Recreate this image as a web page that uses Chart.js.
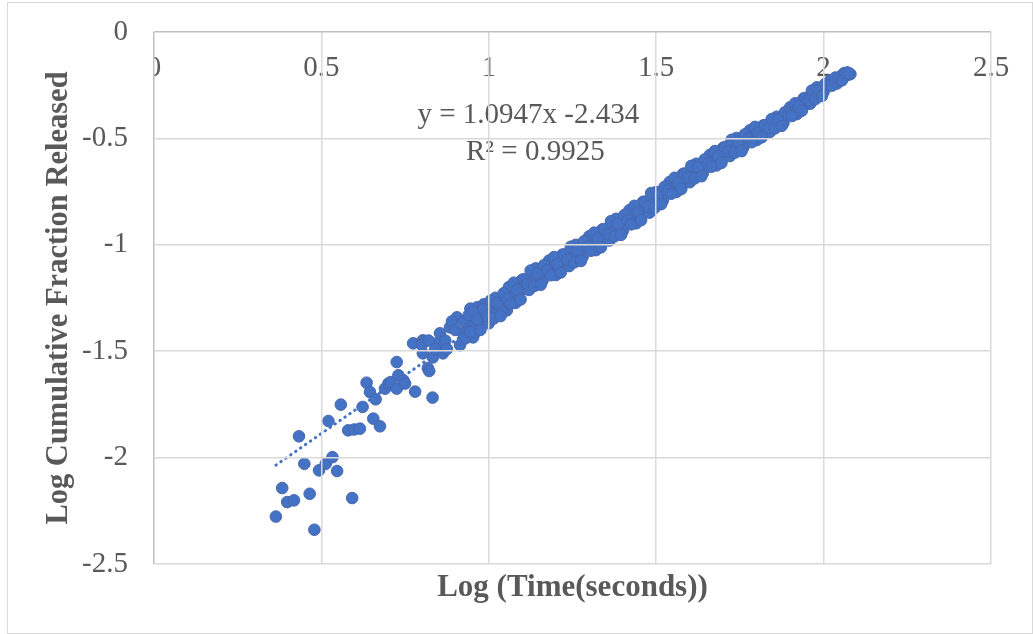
<!DOCTYPE html>
<html>
<head>
<meta charset="utf-8">
<script src="https://cdn.jsdelivr.net/npm/chart.js@4.4.1/dist/chart.umd.min.js"></script>
<style>
html,body{margin:0;padding:0;background:#fff;}
canvas{display:block;}
</style>
</head>
<body>
<canvas id="c" width="1033" height="634"></canvas>
<script>
// ---- data ----
const xTickValues = [0, 0.5, 1, 1.5, 2, 2.5];
const xTickLabels = ["0", "0.5", "1", "1.5", "2", "2.5"];
const yTickValues = [0, -0.5, -1, -1.5, -2, -2.5];
const yTickLabels = ["0", "-0.5", "-1", "-1.5", "-2", "-2.5"];

const xTitle = "Log (Time(seconds))";
const yTitle = "Log Cumulative Fraction Released";
const equationLines = ["y = 1.0947x -2.434", "R\u00B2 = 0.9925"];
const trendSlope = 1.0947;
const trendIntercept = -2.434;

// early, scattered measurements
const earlyLogTime = [0.364,0.383,0.398,0.418,0.433,0.449,0.465,0.479,0.493,0.513,
  0.521,0.533,0.547,0.558,0.580,0.592,0.598,0.615,0.623,0.635,
  0.645,0.655,0.662,0.675,0.690,0.700,0.707,0.725,0.725,0.730,
  0.745,0.750,0.774,0.780,0.803,0.803,0.818,0.822,0.832,0.833,
  0.845,0.854,0.863,0.884,0.905,0.914,0.923,0.935,0.953,0.965,
  0.974,0.995,1.013,1.033,1.054,1.084,
  0.800,0.820,0.840,0.870,0.875,0.890,0.900,0.925,0.930,0.945,
  0.960,0.985];
const earlyLogFraction = [-2.277,-2.143,-2.209,-2.201,-1.900,-2.029,-2.170,-2.339,-2.060,-2.029,
  -1.828,-1.998,-2.063,-1.751,-1.872,-2.190,-1.868,-1.864,-1.762,-1.648,
  -1.692,-1.817,-1.726,-1.853,-1.676,-1.652,-1.645,-1.676,-1.551,-1.613,
  -1.637,-1.652,-1.463,-1.690,-1.449,-1.510,-1.580,-1.593,-1.718,-1.529,
  -1.463,-1.416,-1.510,-1.388,-1.341,-1.472,-1.416,-1.369,-1.435,-1.294,
  -1.341,-1.308,-1.294,-1.261,-1.308,-1.246,
  -1.470,-1.450,-1.490,-1.450,-1.490,-1.360,-1.400,-1.360,-1.440,-1.300,
  -1.320,-1.280];

// later, dense measurements (the thick band), first pass
const lateLogTime = [0.94,0.95,0.96,0.97,0.98,0.99,1.00,1.01,1.02,1.03,
  1.04,1.05,1.06,1.07,1.08,1.09,1.10,1.11,1.12,1.13,
  1.14,1.15,1.16,1.17,1.18,1.19,1.20,1.21,1.22,1.23,
  1.24,1.25,1.26,1.27,1.28,1.29,1.30,1.31,1.32,1.33,
  1.34,1.35,1.36,1.37,1.38,1.39,1.40,1.41,1.42,1.43,
  1.44,1.45,1.46,1.47,1.48,1.49,1.50,1.51,1.52,1.53,
  1.54,1.55,1.56,1.57,1.58,1.59,1.60,1.61,1.62,1.63,
  1.64,1.65,1.66,1.67,1.68,1.69,1.70,1.71,1.72,1.73,
  1.74,1.75,1.76,1.77,1.78,1.79,1.80,1.81,1.82,1.83,
  1.84,1.85,1.86,1.87,1.88,1.89,1.90,1.91,1.92,1.93,
  1.94,1.95,1.96,1.97,1.98,1.99,2.00,2.01,2.02,2.03,
  2.04,2.05,2.06,2.07,2.08];
const lateLogFraction = [-1.330,-1.386,-1.411,-1.332,-1.303,-1.359,-1.369,-1.302,-1.249,-1.297,
  -1.314,-1.236,-1.199,-1.251,-1.273,-1.191,-1.164,-1.207,-1.212,-1.155,
  -1.111,-1.154,-1.170,-1.105,-1.074,-1.121,-1.142,-1.072,-1.046,-1.092,
  -1.100,-1.044,-1.000,-1.042,-1.058,-0.992,-0.960,-1.006,-1.025,-0.955,
  -0.927,-0.973,-0.980,-0.922,-0.878,-0.919,-0.935,-0.868,-0.837,-0.881,
  -0.899,-0.828,-0.799,-0.843,-0.849,-0.790,-0.752,-0.782,-0.791,-0.734,
  -0.705,-0.739,-0.752,-0.691,-0.667,-0.702,-0.706,-0.657,-0.619,-0.651,
  -0.661,-0.606,-0.578,-0.613,-0.627,-0.568,-0.544,-0.579,-0.583,-0.535,
  -0.498,-0.531,-0.543,-0.489,-0.462,-0.499,-0.508,-0.459,-0.439,-0.467,
  -0.469,-0.429,-0.398,-0.423,-0.428,-0.380,-0.354,-0.378,-0.386,-0.335,
  -0.313,-0.337,-0.337,-0.294,-0.260,-0.282,-0.281,-0.246,-0.227,-0.241,
  -0.242,-0.210,-0.195,-0.203,-0.198];

// later, dense measurements (the thick band), in-between readings
const bandLogTime = [0.945,0.955,0.965,0.975,0.985,0.995,1.005,1.015,1.025,1.035,
  1.045,1.055,1.065,1.075,1.085,1.095,1.105,1.115,1.125,1.135,
  1.145,1.155,1.165,1.175,1.185,1.195,1.205,1.215,1.225,1.235,
  1.245,1.255,1.265,1.275,1.285,1.295,1.305,1.315,1.325,1.335,
  1.345,1.355,1.365,1.375,1.385,1.395,1.405,1.415,1.425,1.435,
  1.445,1.455,1.465,1.475,1.485,1.495,1.505,1.515,1.525,1.535,
  1.545,1.555,1.565,1.575,1.585,1.595,1.605,1.615,1.625,1.635,
  1.645,1.655,1.665,1.675,1.685,1.695,1.705,1.715,1.725,1.735,
  1.745,1.755,1.765,1.775,1.785,1.795,1.805,1.815,1.825,1.835,
  1.845,1.855,1.865,1.875,1.885,1.895,1.905,1.915,1.925,1.935,
  1.945,1.955,1.965,1.975,1.985,1.995,2.005,2.015,2.025,2.035,
  2.045,2.055,2.065,2.075];
const bandLogFraction = [-1.410,-1.314,-1.351,-1.400,-1.303,-1.335,-1.263,-1.346,-1.275,-1.335,
  -1.227,-1.255,-1.277,-1.178,-1.211,-1.257,-1.162,-1.184,-1.121,-1.194,
  -1.135,-1.188,-1.096,-1.122,-1.143,-1.058,-1.089,-1.130,-1.046,-1.071,
  -1.009,-1.083,-1.023,-1.076,-0.983,-1.008,-1.028,-0.943,-0.972,-1.012,
  -0.927,-0.951,-0.889,-0.961,-0.901,-0.953,-0.860,-0.885,-0.904,-0.817,
  -0.845,-0.884,-0.797,-0.821,-0.757,-0.827,-0.768,-0.809,-0.728,-0.746,
  -0.760,-0.685,-0.707,-0.738,-0.665,-0.684,-0.629,-0.688,-0.636,-0.678,
  -0.599,-0.618,-0.633,-0.560,-0.583,-0.615,-0.541,-0.561,-0.507,-0.567,
  -0.516,-0.560,-0.481,-0.502,-0.518,-0.446,-0.472,-0.495,-0.438,-0.451,
  -0.409,-0.453,-0.412,-0.441,-0.377,-0.388,-0.395,-0.335,-0.349,-0.370,
  -0.310,-0.321,-0.275,-0.316,-0.273,-0.301,-0.244,-0.250,-0.252,-0.214,
  -0.219,-0.227,-0.192,-0.193];

// ---- build library structures ----
const logTime = earlyLogTime.concat(lateLogTime, bandLogTime);
const logFraction = earlyLogFraction.concat(lateLogFraction, bandLogFraction);
const points = logTime.map((x, i) => ({x: x, y: logFraction[i]}));
const xMinData = Math.min(...logTime), xMaxData = Math.max(...logTime);
const trendPoints = [
  {x: xMinData, y: trendSlope * xMinData + trendIntercept},
  {x: xMaxData, y: trendSlope * xMaxData + trendIntercept}
];

const TEXT = '#595959';
const SERIF = '"Liberation Serif", "Times New Roman", serif';

const decorations = {
  id: 'decorations',
  beforeDraw(chart) {
    const ctx = chart.ctx;
    ctx.save();
    ctx.fillStyle = '#ffffff';
    ctx.fillRect(0, 0, chart.width, chart.height);
    ctx.strokeStyle = '#d9d9d9';
    ctx.lineWidth = 1;
    ctx.strokeRect(7.5, 2.5, 1025, 631);
    ctx.restore();
  },
  beforeDatasetsDraw(chart) {
    const ctx = chart.ctx;
    const ca = chart.chartArea;
    const xs = chart.scales.x, ys = chart.scales.y;
    ctx.save();
    ctx.beginPath();
    ctx.rect(ca.left, 0, chart.width - ca.left, chart.height);
    ctx.clip();
    ctx.font = '29px ' + SERIF;
    ctx.fillStyle = TEXT;
    ctx.textAlign = 'center';
    ctx.textBaseline = 'middle';
    const ly = ys.getPixelForValue(0) + 36;
    xTickValues.forEach((v, i) => {
      ctx.fillText(xTickLabels[i], xs.getPixelForValue(v), ly);
    });
    const ex = ca.left + 0.452 * (ca.right - ca.left);
    ctx.fillText(equationLines[0], ex - 4, ca.top + 83);
    ctx.fillText(equationLines[1], ex + 3, ca.top + 120);
    ctx.restore();
  }
};

new Chart(document.getElementById('c'), {
  type: 'scatter',
  data: {
    datasets: [
      {
        label: 'Log Cumulative Fraction Released',
        data: points,
        pointRadius: 5.8,
        pointBackgroundColor: '#4472C4',
        pointBorderColor: '#4767ae',
        pointBorderWidth: 1,
        order: 1
      },
      {
        type: 'line',
        label: 'Linear trend',
        data: trendPoints,
        borderColor: '#4472C4',
        borderWidth: 3,
        borderDash: [0.5, 5.5],
        borderCapStyle: 'round',
        pointRadius: 0,
        fill: false,
        order: 2
      }
    ]
  },
  plugins: [decorations],
  options: {
    responsive: false,
    devicePixelRatio: 1,
    animation: false,
    events: [],
    layout: { padding: { left: 0, right: 42, top: 32, bottom: 0 } },
    plugins: { legend: { display: false }, tooltip: { enabled: false } },
    scales: {
      x: {
        type: 'linear',
        position: 'bottom',
        min: 0, max: 2.5,
        afterBuildTicks: (s) => { s.ticks = xTickValues.map(v => ({value: v})); },
        afterFit: (s) => { s.height = 70; s.paddingLeft = 0; s.paddingRight = 0; },
        ticks: { display: false },
        border: { display: false },
        grid: {
          z: 1,
          drawTicks: false,
          lineWidth: 1.5,
          color: (c) => (c.tick && c.tick.value === 0) ? '#bfbfbf' : '#d9d9d9'
        },
        title: {
          display: true,
          text: xTitle,
          color: TEXT,
          font: { family: SERIF, size: 31, weight: 'bold' },
          padding: { top: 0, bottom: 27 }
        }
      },
      y: {
        type: 'linear',
        min: -2.5, max: 0,
        afterBuildTicks: (s) => { s.ticks = yTickValues.map(v => ({value: v})); },
        afterFit: (s) => { s.width = 154; s.paddingTop = 0; s.paddingBottom = 0; },
        border: { display: false },
        grid: {
          z: 1,
          drawTicks: false,
          lineWidth: 1.5,
          color: (c) => (c.tick && c.tick.value === 0) ? '#bfbfbf' : '#d9d9d9'
        },
        ticks: {
          padding: 26,
          color: TEXT,
          font: { family: SERIF, size: 29 },
          callback: (v) => {
            const i = yTickValues.findIndex(t => Math.abs(t - v) < 1e-9);
            return i >= 0 ? yTickLabels[i] : '';
          }
        },
        title: {
          display: true,
          text: yTitle,
          color: TEXT,
          font: { family: SERIF, size: 30.5, weight: 'bold' },
          padding: { top: 41, bottom: 0 }
        }
      }
    }
  }
});
</script>
</body>
</html>
